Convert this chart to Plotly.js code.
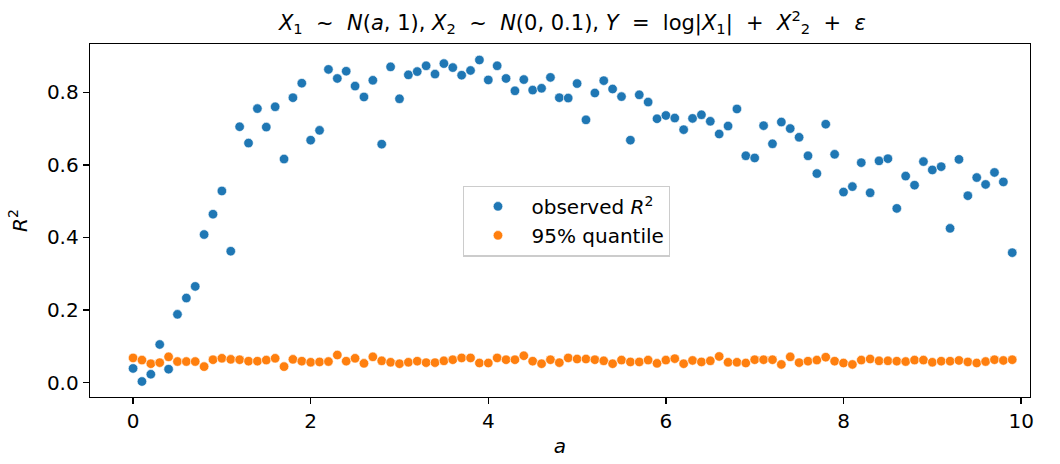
<!DOCTYPE html>
<html>
<head>
<meta charset="utf-8">
<script src="https://cdn.plot.ly/plotly-3.0.1.min.js"></script>
<style>html,body{margin:0;padding:0;background:#fff;}#chart{width:1060px;height:464px;}</style>
</head>
<body>
<div id="chart"></div>
<script>
// a values: 0.0 .. 9.9 step 0.1
const aValues = [0.0,0.1,0.2,0.3,0.4,0.5,0.6,0.7,0.8,0.9,
1.0,1.1,1.2,1.3,1.4,1.5,1.6,1.7,1.8,1.9,
2.0,2.1,2.2,2.3,2.4,2.5,2.6,2.7,2.8,2.9,
3.0,3.1,3.2,3.3,3.4,3.5,3.6,3.7,3.8,3.9,
4.0,4.1,4.2,4.3,4.4,4.5,4.6,4.7,4.8,4.9,
5.0,5.1,5.2,5.3,5.4,5.5,5.6,5.7,5.8,5.9,
6.0,6.1,6.2,6.3,6.4,6.5,6.6,6.7,6.8,6.9,
7.0,7.1,7.2,7.3,7.4,7.5,7.6,7.7,7.8,7.9,
8.0,8.1,8.2,8.3,8.4,8.5,8.6,8.7,8.8,8.9,
9.0,9.1,9.2,9.3,9.4,9.5,9.6,9.7,9.8,9.9];

const observedR2 = [0.039,0.003,0.023,0.105,0.037,0.188,0.233,0.265,0.408,0.464,
0.528,0.362,0.705,0.660,0.755,0.704,0.760,0.616,0.785,0.825,
0.668,0.695,0.863,0.838,0.858,0.817,0.787,0.833,0.657,0.870,
0.782,0.848,0.857,0.873,0.850,0.879,0.868,0.847,0.860,0.889,
0.834,0.873,0.838,0.804,0.835,0.806,0.811,0.841,0.785,0.784,
0.824,0.724,0.798,0.832,0.809,0.788,0.668,0.793,0.773,0.727,
0.736,0.729,0.697,0.728,0.738,0.720,0.685,0.707,0.754,0.625,
0.619,0.708,0.658,0.718,0.700,0.676,0.625,0.576,0.712,0.629,
0.525,0.540,0.606,0.523,0.611,0.617,0.480,0.569,0.544,0.609,
0.586,0.595,0.425,0.615,0.515,0.565,0.546,0.579,0.553,0.358];

const quantile95 = [0.068,0.062,0.052,0.055,0.071,0.058,0.058,0.058,0.044,0.063,
0.067,0.064,0.063,0.059,0.059,0.062,0.067,0.044,0.064,0.059,
0.056,0.057,0.058,0.076,0.059,0.067,0.053,0.071,0.060,0.056,
0.052,0.056,0.059,0.055,0.055,0.060,0.063,0.068,0.068,0.054,
0.054,0.068,0.063,0.063,0.074,0.059,0.052,0.063,0.055,0.068,
0.065,0.065,0.063,0.060,0.052,0.062,0.057,0.057,0.062,0.053,
0.062,0.066,0.052,0.061,0.057,0.060,0.072,0.056,0.056,0.054,
0.063,0.063,0.063,0.050,0.071,0.055,0.059,0.062,0.070,0.059,
0.054,0.050,0.062,0.065,0.060,0.060,0.059,0.058,0.062,0.062,
0.056,0.059,0.059,0.061,0.057,0.054,0.058,0.063,0.061,0.063];

const seriesNames = ['observed <i>R</i><sup>2</sup>', '95% quantile'];
const xTicks = [0,2,4,6,8,10];
const yTicks = [0.0,0.2,0.4,0.6,0.8];
const yTickLabels = ['0.0','0.2','0.4','0.6','0.8'];

const FONT = 'DejaVu Sans, sans-serif';

const traces = [
  {x: aValues, y: observedR2, mode: 'markers', type: 'scatter', name: seriesNames[0],
   marker: {color: '#1f77b4', size: 9.5, line: {color: '#ffffff', width: 0.6}}},
  {x: aValues, y: quantile95, mode: 'markers', type: 'scatter', name: seriesNames[1],
   marker: {color: '#ff7f0e', size: 9.5, line: {color: '#ffffff', width: 0.6}}}
];

const axisCommon = {
  showgrid: false, zeroline: false, showline: true, mirror: true,
  linecolor: '#000', linewidth: 1.3, ticks: 'outside', ticklen: 6, tickwidth: 1.3,
  tickcolor: '#000', tickfont: {family: FONT, size: 20, color: '#000'}
};

const sp = '&nbsp;&nbsp;';
const titleText = '<i>X</i><sub>1</sub>' + sp + '~' + sp + '<i>N</i>(<i>a</i>, 1), ' +
  '<i>X</i><sub>2</sub>' + sp + '~' + sp + '<i>N</i>(0, 0.1), ' +
  '<i>Y</i>' + sp + '=' + sp + 'log|<i>X</i><sub>1</sub>|' + sp + '+' + sp +
  '<i>X</i><sup>2</sup><sub>2</sub>' + sp + '+' + sp + '<i>ε</i>';

const layout = {
  width: 1060, height: 464,
  margin: {l: 90, r: 30, t: 44, b: 67},
  paper_bgcolor: '#fff', plot_bgcolor: '#fff',
  font: {family: FONT, color: '#000'},
  title: {text: titleText,
          font: {family: FONT, size: 21, color: '#000'}, x: 0.54, xanchor: 'center', y: 0.952, yanchor: 'middle'},
  xaxis: Object.assign({}, axisCommon, {
    range: [-0.485, 10.1], tickvals: xTicks, ticktext: xTicks.map(String),
    title: {text: '<i>a</i>', font: {family: FONT, size: 20, color: '#000'}, standoff: 6}
  }),
  yaxis: Object.assign({}, axisCommon, {
    range: [-0.0397, 0.933], tickvals: yTicks, ticktext: yTickLabels,
    title: {text: '<i>R</i><sup>2</sup>', font: {family: FONT, size: 20, color: '#000'}, standoff: 14}
  }),
  legend: {x: 0.397, y: 0.599, xanchor: 'left', yanchor: 'top',
    bgcolor: 'rgba(255,255,255,0.8)', bordercolor: '#cccccc', borderwidth: 1.3,
    font: {family: FONT, size: 20, color: '#000'}, itemwidth: 57, tracegroupgap: 2},
  showlegend: true
};

Plotly.newPlot('chart', traces, layout, {displayModeBar: false, staticPlot: true});
</script>
</body>
</html>
